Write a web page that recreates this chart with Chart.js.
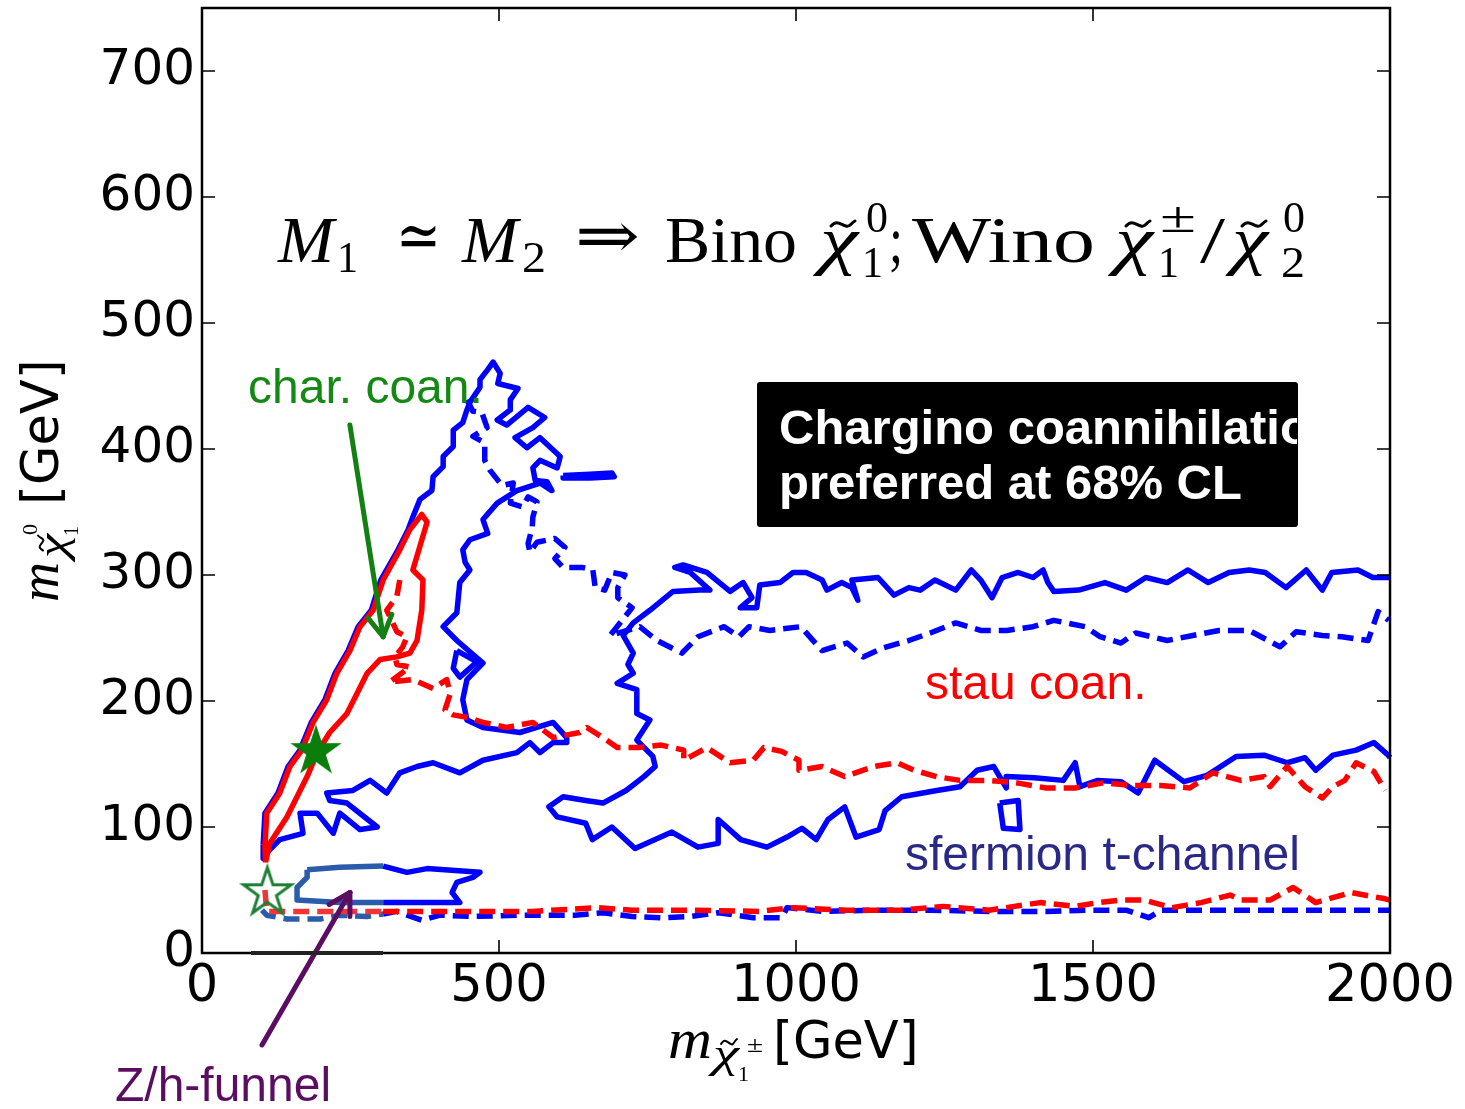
<!DOCTYPE html>
<html><head><meta charset="utf-8">
<script src="https://cdn.jsdelivr.net/npm/chart.js@4.4.1/dist/chart.umd.min.js"></script>
<style>html,body{margin:0;padding:0;background:#fff;}canvas{display:block;}</style>
</head><body>
<canvas id="c" width="1465" height="1109"></canvas>
<script>
// ---- axis ticks ----
const xTicks = [0, 500, 1000, 1500, 2000];
const yTicks = [0, 100, 200, 300, 400, 500, 600, 700];

// ---- contours (x = chargino mass, y = neutralino mass, GeV) ----
const redSolid = [[107,72],[106,84],[109,111],[131,127],[148,148],[168,161],[187,183],[210,201],[227,222],[249,240],[266,259],[288,272],[305,296],[333,320],[350,336],[370,348],[379,342],[355,304],[372,296],[370,272],[362,248],[350,238],[328,235],[300,233],[278,222],[261,206],[244,190],[215,175],[194,159],[177,140],[160,124],[143,108],[114,87],[107,72]];

const blueSolidLeft = [[103,86],[106,111],[128,127],[145,148],[165,161],[184,183],[207,201],[224,222],[246,240],[263,259],[285,272],[301,296],[330,320],[347,336],[355,346],[367,360],[387,367],[389,378],[406,386],[406,394],[423,402],[423,415],[439,421],[446,431],[451,437],[468,449],[468,455],[481,463],[490,469],[502,460],[498,452],[532,448],[519,439],[519,431],[497,423],[513,419],[549,433],[577,425],[557,417],[527,409],[547,401],[569,409],[603,394],[598,385],[569,391],[557,385],[561,375],[581,374],[589,367],[569,373],[530,367],[497,357],[473,344],[481,333],[451,328],[439,320],[443,310],[451,304],[434,294],[429,270],[406,259],[429,248],[473,230],[446,217],[439,201],[446,185],[473,179],[535,175],[591,183],[614,171],[614,167],[591,167],[569,159],[552,167],[530,159],[473,153],[434,143],[389,151],[362,148],[333,143],[311,127],[283,137],[254,129],[210,127],[215,121],[244,119],[295,100],[266,98],[232,111],[221,95],[194,111],[165,111],[170,95],[131,90],[114,82],[103,75],[103,86]];

const blueSolidRight = [[2000,298],[1971,298],[1946,304],[1902,302],[1886,288],[1859,304],[1825,290],[1790,302],[1763,304],[1729,302],[1694,294],[1660,304],[1625,294],[1589,298],[1556,288],[1520,294],[1476,288],[1434,287],[1424,294],[1416,304],[1399,298],[1374,302],[1347,298],[1330,282],[1311,296],[1295,304],[1269,288],[1234,296],[1209,288],[1190,290],[1165,284],[1138,298],[1094,296],[1104,280],[1094,290],[1077,294],[1052,288],[1044,296],[1017,302],[995,302],[973,294],[939,292],[934,274],[906,274],[926,282],[911,294],[889,287],[850,302],[810,308],[796,306],[822,302],[855,288],[838,288],[793,287],[754,272],[726,262],[709,252],[726,238],[717,229],[726,222],[699,214],[732,209],[732,190],[754,185],[732,169],[759,156],[763,148],[744,140],[714,129],[675,119],[646,121],[608,124],[584,116],[598,108],[646,103],[657,90],[690,100],[729,83],[791,96],[835,84],[869,87],[869,106],[907,90],[951,84],[985,92],[1010,99],[1034,90],[1054,106],[1082,116],[1101,92],[1140,98],[1150,113],[1178,124],[1237,129],[1276,132],[1305,145],[1333,148],[1354,131],[1354,140],[1401,139],[1450,137],[1470,151],[1478,132],[1508,137],[1547,136],[1576,127],[1604,153],[1653,136],[1692,141],[1741,156],[1788,157],[1827,151],[1857,155],[1875,145],[1904,157],[1943,161],[1973,167],[1997,157],[2000,155]];

const blueIslandA = [[429,240],[463,231],[434,219],[423,226],[429,240]];
const blueIslandB = [[1343,119],[1374,121],[1377,98],[1349,99],[1343,119]];
const blueIslandC = [[608,379],[653,380],[690,381],[694,378],[653,377],[608,377],[608,379]];
const blueFunnel = [[177,66],[232,68],[305,69],[345,64],[379,67],[468,64],[456,60],[429,56],[421,48],[434,40],[345,40],[305,40],[232,40],[160,42],[160,52],[177,60],[177,66]];

const blueDashedUpper = [[446,439],[456,430],[471,429],[480,417],[456,410],[476,405],[476,391],[485,383],[505,371],[524,373],[519,357],[540,354],[549,362],[564,358],[557,346],[556,338],[549,325],[552,318],[564,326],[594,329],[611,322],[594,313],[608,306],[640,306],[658,304],[662,290],[678,288],[690,302],[712,300],[700,290],[700,282],[724,274],[687,252],[737,259],[766,248],[808,238],[835,251],[879,259],[904,251],[921,259],[956,256],[1008,259],[1044,240],[1086,246],[1113,235],[1146,242],[1190,248],[1226,254],[1269,262],[1311,256],[1355,256],[1399,259],[1434,264],[1487,259],[1512,251],[1547,246],[1572,254],[1625,248],[1668,252],[1712,256],[1763,256],[1815,243],[1842,255],[1886,252],[1919,251],[1963,248],[1980,271],[1998,264]];

const blueDashedLower = [[101,34],[109,30],[143,27],[199,27],[232,30],[278,29],[305,31],[328,33],[370,26],[401,30],[456,29],[535,30],[628,30],[675,32],[724,29],[773,28],[822,29],[869,32],[928,28],[976,28],[985,36],[1044,33],[1131,34],[1227,34],[1325,33],[1421,33],[1498,34],[1556,34],[1594,28],[1615,34],[1721,34],[1818,34],[1904,34],[1992,34],[2000,34]];

const redDashedUpper = [[333,296],[328,283],[311,272],[328,255],[345,251],[338,243],[325,235],[328,229],[350,227],[316,215],[355,217],[389,210],[412,217],[418,206],[409,193],[423,189],[446,187],[473,183],[513,179],[557,183],[591,171],[636,175],[648,179],[675,171],[699,163],[734,163],[773,165],[811,161],[811,153],[850,163],[889,151],[928,153],[946,163],[976,160],[1005,153],[1005,145],[1044,148],[1082,140],[1131,148],[1170,151],[1199,145],[1237,140],[1276,137],[1325,137],[1372,135],[1421,131],[1470,131],[1517,135],[1566,133],[1614,133],[1663,131],[1702,143],[1749,137],[1788,140],[1798,132],[1827,148],[1857,132],[1886,123],[1904,132],[1924,137],[1943,151],[1973,144],[1992,129]];

const redDashedLower = [[106,50],[109,33],[177,33],[305,33],[311,33],[401,33],[557,33],[667,36],[724,34],[822,34],[938,33],[995,36],[1083,34],[1178,34],[1247,37],[1325,34],[1411,40],[1470,37],[1508,40],[1547,42],[1586,42],[1633,36],[1682,40],[1731,46],[1749,42],[1798,42],[1837,52],[1875,40],[1934,48],[1992,43],[2000,42]];

// ---- special points ----
const bestFitPoint = [[192,161]];
const funnelPoint = [[110,49]];

// ---- annotation arrows (data coordinates: tail -> tip) ----
const charArrow = [[249,419],[305,251]];
const funnelArrow = [[101,-73],[249,48]];

const BLUE = '#0000ff', RED = '#ff0000';
const BLUE_DIM = '#2a5cab', RED_DIM = '#ef3535';
const DIM_X = 305; // region under the pasted arrow image appears tinted
const toXY = a => a.map(p => ({x:p[0], y:p[1]}));

function makeStar(R, fill, stroke, lw){
  const s = Math.ceil(2*R + 2*lw + 4);
  const c = document.createElement('canvas'); c.width = s; c.height = s;
  const g = c.getContext('2d');
  g.translate(s/2, s/2 + R*0.05);
  g.beginPath();
  for (let i=0;i<10;i++){ const r = i%2 ? R*0.382 : R; const a = -Math.PI/2 + i*Math.PI/5; g.lineTo(r*Math.cos(a), r*Math.sin(a)); }
  g.closePath();
  if (fill){ g.fillStyle = fill; g.fill(); }
  if (stroke){ g.strokeStyle = stroke; g.lineWidth = lw; g.lineJoin='miter'; g.stroke(); }
  return c;
}
const filledStar = makeStar(27, '#0b7d0b', null, 0);
const hollowStar = makeStar(25, null, '#1d7f35', 3);

function line(data, color, dashed, order, dimColor){
  const ds = {type:'scatter', data: toXY(data), showLine:true, borderColor:color, backgroundColor:color,
    borderWidth:5.5, borderDash: dashed ? [16,8] : [], borderJoinStyle:'round', borderCapStyle:'butt',
    pointRadius:0, pointHoverRadius:0, tension:0, order: order, clip: 4};
  if (dimColor) ds.segment = {borderColor: c => (Math.max(c.p0.parsed.x, c.p1.parsed.x) <= DIM_X ? dimColor : color)};
  return ds;
}

function drawArrow(ctx, x1,y1,x2,y2,color,w,head){
  const dx=x2-x1, dy=y2-y1, L=Math.hypot(dx,dy), ux=dx/L, uy=dy/L;
  ctx.save(); ctx.strokeStyle=color; ctx.lineWidth=w; ctx.lineCap='round'; ctx.lineJoin='round';
  ctx.beginPath(); ctx.moveTo(x1,y1); ctx.lineTo(x2,y2); ctx.stroke();
  const ang = Math.PI/6;
  for (const s of [-1,1]){
    const c=Math.cos(s*ang), sn=Math.sin(s*ang);
    const rx = -ux*c + uy*sn, ry = -ux*sn - uy*c;
    ctx.beginPath(); ctx.moveTo(x2,y2); ctx.lineTo(x2+rx*head, y2+ry*head); ctx.stroke();
  }
  ctx.restore();
}

function tildeAt(ctx, cx, ty, w, lw){
  ctx.save(); ctx.lineWidth=lw; ctx.strokeStyle='#000'; ctx.lineCap='round';
  ctx.beginPath(); ctx.moveTo(cx-w/2, ty+2);
  ctx.bezierCurveTo(cx-w/4, ty-5, cx-w/12, ty+1, cx+w/8, ty+2);
  ctx.bezierCurveTo(cx+w/4, ty+4, cx+w/3, ty-1, cx+w/2, ty-3);
  ctx.stroke(); ctx.restore();
}

function fitText(ctx, s, font, x, y, w){
  ctx.font = font;
  const m = ctx.measureText(s).width;
  ctx.save(); ctx.translate(x, y); ctx.scale(w/m, 1); ctx.fillText(s, 0, 0); ctx.restore();
}

const SERIF = '"Liberation Serif","DejaVu Serif",serif';
const SANS = '"Liberation Sans",Arial,sans-serif';

const decorations = {
  id:'decorations',
  afterDatasetsDraw(chart){
    const ctx = chart.ctx, xs = chart.scales.x, ys = chart.scales.y;
    const P = p => [xs.getPixelForValue(p[0]), ys.getPixelForValue(p[1])];
    let a = P(charArrow[0]), b = P(charArrow[1]);
    drawArrow(ctx, a[0],a[1],b[0],b[1],'#138013',5,24);
    a = P(funnelArrow[0]); b = P(funnelArrow[1]);
    drawArrow(ctx, a[0],a[1],b[0],b[1],'#5b0d62',5,24);

    ctx.save();
    ctx.textBaseline='alphabetic'; ctx.textAlign='left';
    ctx.font = '48px '+SANS; ctx.fillStyle = '#148a14'; ctx.fillText('char. coan.', 248, 403);
    ctx.fillStyle = '#ff0000'; ctx.fillText('stau coan.', 925, 699);
    ctx.fillStyle = '#2a2a86'; ctx.fillText('sfermion t-channel', 905, 870);
    ctx.fillStyle = '#5b0d62'; ctx.fillText('Z/h-funnel', 115, 1101);
    ctx.beginPath();
    if (ctx.roundRect) ctx.roundRect(757,382,541,145,3); else ctx.rect(757,382,541,145);
    ctx.fillStyle='#000'; ctx.fill();
    ctx.save(); ctx.beginPath(); ctx.rect(757,382,540,145); ctx.clip();
    ctx.fillStyle='#fff'; ctx.font = 'bold 49px '+SANS;
    ctx.fillText('Chargino coannihilation', 779, 444);
    ctx.fillText('preferred at 68% CL', 779, 499);
    ctx.restore();
    ctx.restore();
  },
  afterDraw(chart){
    const ctx = chart.ctx, ca = chart.chartArea, xs = chart.scales.x, ys = chart.scales.y;
    ctx.save();
    ctx.strokeStyle='#000'; ctx.lineWidth=2.5;
    ctx.strokeRect(ca.left, ca.top, ca.right-ca.left, ca.bottom-ca.top);
    ctx.lineWidth=1.6;
    ctx.beginPath();
    xTicks.forEach(v=>{ const x = xs.getPixelForValue(v);
      ctx.moveTo(x, ca.bottom); ctx.lineTo(x, ca.bottom-13);
      ctx.moveTo(x, ca.top); ctx.lineTo(x, ca.top+13); });
    yTicks.forEach(v=>{ const y = ys.getPixelForValue(v);
      ctx.moveTo(ca.left, y); ctx.lineTo(ca.left+13, y);
      ctx.moveTo(ca.right, y); ctx.lineTo(ca.right-13, y); });
    ctx.stroke();
    ctx.lineWidth=4; ctx.strokeStyle='#222';
    ctx.beginPath(); ctx.moveTo(251, ca.bottom); ctx.lineTo(383, ca.bottom); ctx.stroke();

    // title formula
    ctx.fillStyle='#000'; ctx.textBaseline='alphabetic'; ctx.textAlign='left';
    const big = 66, sm = 44;
    fitText(ctx,'M','italic '+big+'px '+SERIF,278,262,56);
    fitText(ctx,'1',sm+'px '+SERIF,337,272,21);
    fitText(ctx,'\u2243',big+'px "DejaVu Serif"',396,258,45);
    fitText(ctx,'M','italic '+big+'px '+SERIF,462,262,56);
    fitText(ctx,'2',sm+'px '+SERIF,522,272,24);
    fitText(ctx,'\u21D2',big+'px "DejaVu Serif"',575,258,65);
    fitText(ctx,'Bino',big+'px '+SERIF,665,262,132);
    const chi = (x, w) => { fitText(ctx,'\u03C7','italic '+big+'px '+SERIF,x,262,w); tildeAt(ctx, x+w/2+4, 224, 24, 3); };
    chi(820, 38);
    fitText(ctx,'0',sm+'px '+SERIF,866,232,22);
    fitText(ctx,'1',sm+'px '+SERIF,862,277,21);
    fitText(ctx,';',big+'px '+SERIF,889,262,14);
    fitText(ctx,'Wino',big+'px '+SERIF,912,262,183);
    chi(1115, 38);
    fitText(ctx,'\u00B1',sm+'px '+SERIF,1160,232,36);
    fitText(ctx,'1',sm+'px '+SERIF,1158,277,21);
    fitText(ctx,'/',big+'px '+SERIF,1200,262,25);
    chi(1232, 36);
    fitText(ctx,'0',sm+'px '+SERIF,1283,232,22);
    fitText(ctx,'2',sm+'px '+SERIF,1281,277,24);

    // x axis title
    fitText(ctx,'m','italic 56px '+SERIF,668,1058,44);
    fitText(ctx,'\u03C7','italic 40px '+SERIF,713,1067,26);
    tildeAt(ctx, 729, 1042, 16, 2);
    fitText(ctx,'1','22px '+SERIF,738,1081,11);
    fitText(ctx,'\u00B1','24px '+SERIF,747,1052,16);
    ctx.font='51px "DejaVu Sans"'; ctx.fillText('[GeV]', 773, 1058);

    // y axis title (rotated)
    ctx.save(); ctx.translate(58, 602); ctx.rotate(-Math.PI/2);
    fitText(ctx,'m','italic 56px '+SERIF,0,0,40);
    fitText(ctx,'\u03C7','italic 40px '+SERIF,44,8,24);
    tildeAt(ctx, 59, -17, 15, 2);
    fitText(ctx,'0','22px '+SERIF,67,-21,11);
    fitText(ctx,'1','22px '+SERIF,66,20,10);
    ctx.font='51px "DejaVu Sans"'; ctx.fillText('[GeV]', 97, 0);
    ctx.restore();
    ctx.restore();
  }
};

new Chart(document.getElementById('c'), {
  type:'scatter',
  data:{ datasets:[
    {type:'scatter', data: toXY(bestFitPoint), pointStyle: filledStar, pointRadius: 27, order:0, clip:false},
    {type:'scatter', data: toXY(funnelPoint), pointStyle: hollowStar, pointRadius: 25, order:0, clip:false},
    line(redSolid, RED, false, 1),
    line(redDashedUpper, RED, true, 1),
    line(redDashedLower, RED, true, 1, RED_DIM),
    line(blueSolidLeft, BLUE, false, 2),
    line(blueSolidRight, BLUE, false, 2),
    line(blueIslandA, BLUE, false, 2),
    line(blueIslandB, BLUE, false, 2),
    line(blueIslandC, BLUE, false, 2),
    line(blueFunnel, BLUE, false, 2, BLUE_DIM),
    line(blueDashedUpper, BLUE, true, 3),
    line(blueDashedLower, BLUE, true, 3, BLUE_DIM)
  ]},
  options:{
    responsive:false, animation:false, devicePixelRatio:1, events:[],
    layout:{autoPadding:false, padding:{left:0, right:75, top:8, bottom:0}},
    plugins:{legend:{display:false}, tooltip:{enabled:false}},
    scales:{
      x:{type:'linear', min:0, max:2000, position:'bottom',
        afterBuildTicks: s => { s.ticks = xTicks.map(v=>({value:v})); },
        afterFit: s => { s.height = 156; s.paddingLeft = 0; s.paddingRight = 0; },
        ticks:{font:{family:'DejaVu Sans', size:51}, color:'#000', padding:4, maxRotation:0, autoSkip:false, callback: v => String(v)},
        grid:{display:false, drawTicks:false}, border:{display:false}},
      y:{type:'linear', min:0, max:750, position:'left',
        afterBuildTicks: s => { s.ticks = yTicks.map(v=>({value:v})); },
        afterFit: s => { s.width = 202; s.paddingTop = 0; s.paddingBottom = 0; },
        ticks:{font:{family:'DejaVu Sans', size:50}, color:'#000', padding:7, autoSkip:false, callback: v => String(v)},
        grid:{display:false, drawTicks:false}, border:{display:false}}
    }
  },
  plugins:[decorations]
});
</script>
</body></html>
